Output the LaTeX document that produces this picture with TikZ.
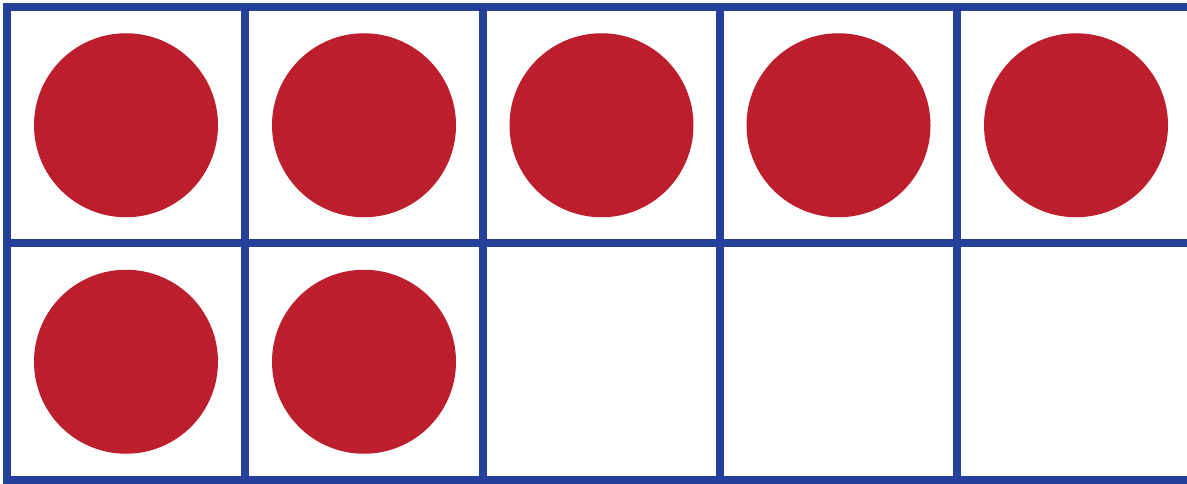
\documentclass[tikz,border=0pt]{standalone}
\definecolor{framebl}{RGB}{37,64,154}
\definecolor{counterred}{RGB}{188,30,45}
\tikzset{every picture/.style={line width=0.75pt}}
\tikzset{frameline/.style={draw=framebl,line width=6pt},
  counter/.style={circle,fill=counterred,minimum size=138pt,inner sep=0pt}}

\begin{document}
\begin{tikzpicture}[x=0.75pt,y=0.75pt,yscale=-1,xscale=1]
\useasboundingbox (0,0) rectangle (1187,484);
\clip (0,0) rectangle (1187,484);

%Ten frame: horizontal lines
\foreach \y in {7,243.5,480}
  \draw [frameline] (3,\y) -- (1200,\y) ;
%Ten frame: vertical lines
\foreach \x in {7,245,483,720,957,1195}
  \draw [frameline] (\x,3) -- (\x,484) ;

%Counters, top row
\foreach \x [count=\i] in {126,364,601.5,838.5,1076}
  \node [counter] (top\i) at (\x,125.25) {};
%Counters, bottom row
\foreach \x [count=\i] in {126,364}
  \node [counter] (bot\i) at (\x,361.75) {};

\end{tikzpicture}
\end{document}
